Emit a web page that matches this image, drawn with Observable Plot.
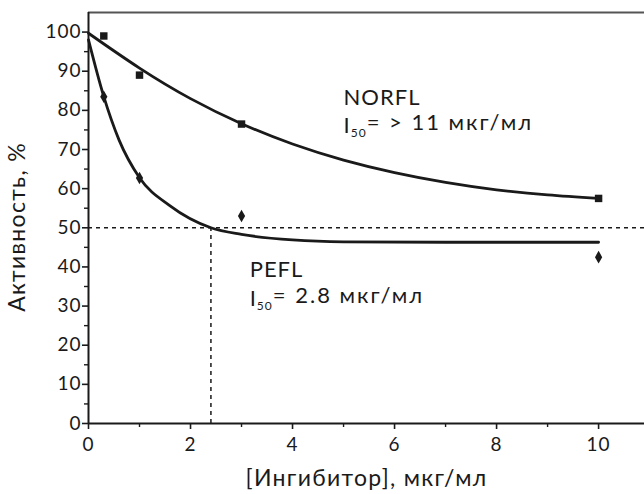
<!DOCTYPE html>
<html><head><meta charset="utf-8">
<script src="https://cdn.jsdelivr.net/npm/d3@7"></script>
<script src="https://cdn.jsdelivr.net/npm/@observablehq/plot@0.6"></script>
<style>
body{margin:0;background:#fff}
#chart svg text{letter-spacing:1px}
</style>
</head><body><div id="chart"></div>
<script>
// measured points
const norflX = [0.3, 1, 3, 10];
const norflY = [99, 89, 76.5, 57.5];
const peflX = [0.3, 1, 3, 10];
const peflY = [83.5, 62.7, 53, 42.5];
// fitted curves
const norflCurveX = [0, 1, 2, 3, 4, 5, 6, 7, 8, 9, 10];
const norflCurveY = [99.7, 90.8, 83.0, 76.6, 71.4, 67.3, 64.1, 61.6, 59.7, 58.4, 57.5];
const peflCurveX = [0, 0.3, 0.6, 1, 1.6, 2.4, 3, 4, 5, 7, 10];
const peflCurveY = [98, 83.5, 72.4, 62.8, 55.6, 50.0, 48.3, 46.9, 46.4, 46.3, 46.3];
// IC50 guides
const halfLevel = [50];
const pefl50X = [2.4];
// ticks
const xMajor = [0, 2, 4, 6, 8, 10];
const xMinor = [1, 3, 5, 7, 9];
const yMajor = [0, 10, 20, 30, 40, 50, 60, 70, 80, 90, 100];
const yMinor = [5, 15, 25, 35, 45, 55, 65, 75, 85, 95];
// annotations
const annotX = [5.0, 5.0, 3.16, 3.16];
const annotY = [81.3, 74.1, 37.3, 29.9];
const annotText = ["NORFL", "I50= > 11 мкг/мл", "PEFL", "I50= 2.8 мкг/мл"];
const xLabel = "[Ингибитор], мкг/мл";
const yLabel = "Активность, %";

const norflPts = norflX.map((x, i) => ({x, y: norflY[i]}));
const peflPts = peflX.map((x, i) => ({x, y: peflY[i]}));
const norflCurve = norflCurveX.map((x, i) => ({x, y: norflCurveY[i]}));
const peflCurve = peflCurveX.map((x, i) => ({x, y: peflCurveY[i]}));
const annots = annotX.map((x, i) => ({x, y: annotY[i], text: annotText[i]}));

const ink = "#1a1a1a";
const plot = Plot.plot({
  width: 644, height: 494,
  marginLeft: 88, marginRight: 0, marginTop: 12, marginBottom: 71,
  style: {fontFamily: "Lato, 'Open Sans', sans-serif", fontSize: "19px", color: ink, background: "#fff"},
  x: {domain: [0, 10.9]},
  y: {domain: [0, 105]},
  marks: [
    Plot.axisX(xMajor, {tickSize: 6, tickPadding: 8, strokeWidth: 1.6, fontSize: 19,
      label: xLabel, labelAnchor: "center", labelArrow: "none", labelOffset: 62}),
    Plot.axisX(xMinor, {tickSize: 4, strokeWidth: 1.4, text: null, label: null}),
    Plot.axisY(yMajor, {tickSize: 6, tickPadding: 1, strokeWidth: 1.6, fontSize: 19,
      label: yLabel, labelAnchor: "center", labelArrow: "none", labelOffset: 80}),
    Plot.axisY(yMinor, {tickSize: 4, strokeWidth: 1.4, text: null, label: null}),
    Plot.ruleY([105], {stroke: "#555", strokeWidth: 2}),
    Plot.ruleY(halfLevel, {stroke: ink, strokeWidth: 1.5, strokeDasharray: "4,4"}),
    Plot.ruleX(pefl50X, {y1: 0, y2: 50, stroke: ink, strokeWidth: 1.5, strokeDasharray: "4,4"}),
    Plot.line(norflCurve, {x: "x", y: "y", curve: "natural", stroke: ink, strokeWidth: 2.8}),
    Plot.line(peflCurve, {x: "x", y: "y", curve: "monotone-x", stroke: ink, strokeWidth: 2.8}),
    Plot.dot(norflPts, {x: "x", y: "y", symbol: "square", r: 4.2, fill: ink}),
    Plot.dot(peflPts, {x: "x", y: "y", symbol: "diamond", r: 3.8, fill: ink}),
    Plot.ruleY([0], {stroke: ink, strokeWidth: 2}),
    Plot.ruleX([0], {stroke: ink, strokeWidth: 2}),
    Plot.text(annots, {x: "x", y: "y", text: "text", textAnchor: "start", lineAnchor: "bottom",
      fontSize: 22, fill: ink})
  ]
});
document.getElementById("chart").append(plot);

// axis label font sizes
d3.select(plot).selectAll('g[aria-label="x-axis label"] text, g[aria-label="y-axis label"] text')
  .style("font-size", "23px").style("letter-spacing", "1.3px");
const yl = d3.select(plot).select('g[aria-label="y-axis label"]');
yl.attr("transform", "translate(0,9) " + (yl.attr("transform") || ""));

// subscripts for I50
d3.select(plot).selectAll("text").each(function() {
  const t = d3.select(this);
  const s = t.text();
  if (s.startsWith("I50")) {
    const rest = s.slice(3);
    t.text(null);
    t.append("tspan").text("I");
    t.append("tspan").attr("font-size", "12px").attr("dy", "0.3em").text("50");
    t.append("tspan").attr("dy", "-0.3em").style("letter-spacing", "2px").text(rest);
  }
});
</script>
</body></html>
